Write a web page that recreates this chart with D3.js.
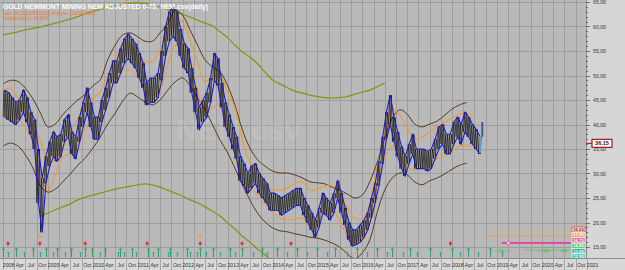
<!DOCTYPE html>
<html>
<head>
<meta charset="utf-8">
<script src="https://cdn.jsdelivr.net/npm/d3@7"></script>
<style>
  body { margin: 0; background: #d4d4d4; }
  svg { display: block; font-family: "Liberation Sans", Arial, sans-serif; }
</style>
</head>
<body>
<svg id="chart" width="625" height="270"></svg>
<script>
// monthly high / low of the price channel, Jan 2008 .. Aug 2018
const priceHi = [47,46.5,45.5,44.5,45,47,45.5,42.5,41,35,29,33.5,
  36.5,38.5,37.5,38,41,42,38.5,37.5,41.5,44.5,47.5,44.5,
  41.5,41.5,45,47.5,50.5,53,53,55.5,57.5,58.5,57.5,56.5,
  54.5,52.5,48.5,49.5,49.5,50.5,55,60,63,64,63,59.5,
  56.5,55.5,51.5,47.5,43.5,45,46.5,49.5,54.5,53.5,48.5,44.5,
  42,39.5,37.5,33.5,32,30,31.5,32,30,29,28,26,
  26,25.5,25,25.5,26,26.5,27,27,25,23.5,22,20.5,
  23,26,25,24,26,28.5,26,23,20,18.5,18.5,19.5,
  20.5,22,25,28,32.5,37.5,42.5,46,41.5,38.5,35.5,33.5,
  36,38,35,35,35,34.5,35,37,39.5,40,38,38,
  40.5,41.5,40,42.5,41.5,40,39,37.5];
const priceLo = [41.5,41,40.5,40,41,42.5,40.5,38,35,24,18,28,
  31.5,33.5,32.5,33.5,36.5,37.5,34,33,36.5,39.5,42.5,39.5,
  37,37,40.5,43,45.5,48.5,48.5,50.5,52.5,53.5,52.5,51.5,
  49.5,47.5,44,44.5,44.5,45.5,49,54,57,58,57,54,
  51.5,50.5,46.5,42.5,39,40.5,41.5,44.5,49,48,43.5,39.5,
  37.5,35,33,28.5,27.5,26,27,28,26,25,24,22.5,
  22.5,22.5,21.5,22,22.5,23,23.5,23.5,21.5,20,18.5,17,
  19,22,21.5,20.5,22,25,22,19.5,16.5,15.2,15.5,16,
  17,18.5,21,24,27.5,32,37,40,36.5,33.5,31,29.5,
  32,34,31,31,31,30.5,31,33,35,36,34,34,
  36,37.5,36,38.5,37.5,36,35,34];

// bands, one value every 2 months from Jan 2008 (null = not drawn)
const orangeUp = [46.8,47.4,45.4,43,39.9,36.8,32.6,32.8,35.4,38.1,41.3,44,45.4,46.6,49.9,53.6,
  55.8,56,53.8,52.8,52.8,55.2,59.3,61.5,60.9,57.2,52.8,48.7,49.9,49.9,46.6,43.4,
  36.8,32.3,30.3,28.5,26.8,26.6,27,28.1,28.3,26.6,26.8,27.4,27.6,25.6,23,20.9,
  20.7,23.6,31.7,37.9,43,41.9,39.3,37.2,37.4,38.5,39.5,40.5,41.3,42.1,42.3,41.5];
const orangeLo = [42.1,41.7,41.1,39.5,36.4,29.1,26.6,29.7,33.4,34,36.4,38.9,40.7,41.5,45.6,48.9,
  51.1,51.1,49.7,47,46,47,52.1,56.2,56.6,53.2,47,42.6,43.4,44,38.9,33.8,
  28.7,27,25.8,23.8,22.1,20.9,20.5,20.7,20.9,19.5,20.1,22.1,23,20.1,17.2,15.8,
  16.2,20.1,27.7,33.2,35.6,33.2,31.3,30.7,31.1,32.1,33,33.6,34.6,35.6,35.8,35.2];
const brownUp = [48.3,49,48.8,47.4,45.2,42.3,39.5,40.1,42,43.6,45,46.2,47.9,49.1,53.2,56.2,
  58.3,58.7,57.9,57,57,58.7,60.5,63.4,62.3,59.3,56.2,53.2,51.7,50.7,47.9,44,
  38.9,35.2,32.8,31.5,30.5,30.1,30.1,29.7,29.1,28.3,28.1,27.9,27.2,26.6,25.8,25,
  25.6,28.3,32.3,37.2,41.3,43,42.1,40.1,39.5,40.1,40.7,41.9,43.2,44,44.5,null];
const brownLo = [35.6,36.2,35.6,33.8,31.1,27.4,26.2,26.8,28.3,29.9,31.7,33.2,35.2,37.4,40.1,42.3,
  44.8,46.4,45.6,44.6,44,45,47,48.7,49.5,47.9,45.4,43,39.9,36.8,34.2,31.1,
  27.7,24.6,21.9,20.1,18.9,18.3,18.1,17.7,17.4,17,16.8,16.4,15.8,15,13.6,12.6,
  13.8,16.4,22.1,26.6,29.1,30.1,29.7,28.3,27.7,28.5,29.1,29.9,30.9,31.7,32.1,null];
const oliveUp = [58.3,58.6,58.9,59.3,59.6,59.9,60.3,60.7,61.1,61.5,62,62.6,63.1,63.5,63.9,64.2,
  64.5,64.7,64.8,64.7,64.4,64,63.5,63,62.5,61.9,61.3,60.7,60.1,58.9,57.7,56.2,
  54.8,53.8,52.4,50.7,49.1,48.3,47.5,46.8,46.4,46,45.7,45.5,45.4,45.5,45.7,46.2,
  46.6,47,47.7,48.5,null,null,null,null,null,null,null,null,null,null,null,null];
const oliveLo = [null,null,null,null,null,21.3,21.9,22.6,23.2,23.8,24.6,25.2,25.6,26,26.4,26.8,
  27.1,27.4,27.7,27.9,27.7,27.2,26.6,26,25.4,24.6,24,23.2,22.3,21.3,19.9,18.7,
  17.2,16,14.6,13.4,11.9,null,null,null,null,null,null,null,null,null,null,null,
  null,null,null,null,null,null,null,null,null,null,null,null,null,null,null,null];

// signals as decimal years
const buyStrong = [2008.0,2008.29,2008.67,2008.96,2009.2,2009.51,2009.83,2009.98,2010.27,2010.61,2010.87,
  2011.23,2011.45,2011.72,2012.1,2012.39,2012.68,2013.06,2013.32,2013.77,2014.1,2014.55,2014.99,
  2015.39,2015.88,2016.33,2016.66,2017.06,2017.51,2018.0,2018.36,2018.85];
const buyWeak = [2008.11,2008.47,2008.82,2009.11,2009.38,2009.71,2010.16,2010.56,2010.69,2010.96,
  2011.34,2011.67,2011.88,2012.16,2012.32,2012.52,2012.83,2013.17,2013.57,2013.88,2014.33,2014.77,
  2015.22,2015.66,2016.11,2016.55,2016.91,2017.22,2017.73,2018.18,2018.58,2019.11];
const sellSignals = [2008.11,2008.82,2009.83,2011.21,2012.39,2013.32,2014.41,2017.96];
const sellStrong = [2008.82,2012.39];

// right-hand level boxes
const levelLabels = ["18,65","17,55","16,75","14,85","13,95","12,95"];
const levelColors = ["#f3e6e6","#f0a860","#e45aa8","#5cc35c","#34b49c","#38c0c0"];
const levelText = ["#a01818","#ffffff","#ffffff","#ffffff","#ffffff","#ffffff"];
const lastValue = 36.15;
const lastRange = [[2018.67, 37.5, 40.5], [2018.62, 34.2, 37.6]];

const quarterNames = ["", "Apr", "Jul", "Oct"];
const yTicks = d3.range(15, 66, 5);

const W = 625, H = 270;
const plotR = 586, plotB = 258;
const svg = d3.select("#chart");

const x = d3.scaleTime()
  .domain([new Date(2008, 0, 1), new Date(2021, 0, 1)])
  .range([3, 587]);
const y = d3.scaleLinear().domain([15, 65]).range([247, 2]);

function yearDate(yr) {
  const yy = Math.floor(yr);
  const start = new Date(yy, 0, 1), end = new Date(yy + 1, 0, 1);
  return new Date(+start + (yr - yy) * (end - start));
}

// backgrounds
svg.append("rect").attr("width", W).attr("height", H).attr("fill", "#d6d6d6");
svg.append("rect").attr("width", plotR).attr("height", plotB).attr("fill", "#b9b9b9");

svg.append("clipPath").attr("id", "plot")
  .append("rect").attr("width", plotR).attr("height", plotB);
const g = svg.append("g").attr("clip-path", "url(#plot)");

// grid
const quarters = d3.timeMonth.every(3).range(new Date(2008, 0, 1), new Date(2021, 0, 2));
g.selectAll(".vg").data(quarters).enter().append("line")
  .attr("x1", d => Math.round(x(d)) + 0.5).attr("x2", d => Math.round(x(d)) + 0.5)
  .attr("y1", 0).attr("y2", plotB)
  .attr("stroke", "#9e9e9e").attr("stroke-width", 1);
g.selectAll(".hg").data(yTicks).enter().append("line")
  .attr("x1", 0).attr("x2", plotR)
  .attr("y1", d => Math.round(y(d)) + 0.5).attr("y2", d => Math.round(y(d)) + 0.5)
  .attr("stroke", "#9e9e9e").attr("stroke-width", 1);

// watermark
g.append("text").attr("x", x(new Date(2013, 3, 1))).attr("y", 140)
  .attr("text-anchor", "middle").attr("font-size", 30).attr("font-weight", "bold")
  .attr("fill", "#ffffff").attr("opacity", 0.09).text("NEM.csv");

const months = priceHi.map((v, i) => i);
const bandIdx = orangeUp.map((v, i) => i * 2);

function band(arr, color, w) {
  const line = d3.line()
    .defined(d => arr[d / 2] != null)
    .x(d => x(new Date(2008, d, 1)))
    .y(d => y(arr[d / 2]))
    .curve(d3.curveCatmullRom);
  g.append("path").datum(bandIdx).attr("d", line)
    .attr("fill", "none").attr("stroke", color).attr("stroke-width", w);
}

band(oliveUp, "#8c9418", 1.3);
band(oliveLo, "#8c9418", 1.3);
band(brownUp, "#5a3b1c", 1);
band(brownLo, "#5a3b1c", 1);
band(orangeUp, "#f29a2e", 1.1);
band(orangeLo, "#f29a2e", 1.1);

// black price path, swinging inside the monthly channel
const zig = [];
months.forEach(m => {
  zig.push([new Date(2008, m, 2), priceLo[m]]);
  zig.push([new Date(2008, m, 9), priceHi[m]]);
  zig.push([new Date(2008, m, 17), priceLo[m]]);
  zig.push([new Date(2008, m, 24), priceHi[m]]);
});
g.append("path").datum(zig)
  .attr("d", d3.line().x(d => x(d[0])).y(d => y(d[1])))
  .attr("fill", "none").attr("stroke", "#000").attr("stroke-width", 0.6);

// blue channel
[priceHi, priceLo].forEach(arr => {
  g.append("path").datum(months)
    .attr("d", d3.line().x(m => x(new Date(2008, m, 15))).y(m => y(arr[m])))
    .attr("fill", "none").attr("stroke", "#1c1ccc").attr("stroke-width", 1.1);
});

// last bars
lastRange.forEach((r, i) => {
  g.append("line")
    .attr("x1", x(yearDate(r[0]))).attr("x2", x(yearDate(r[0])))
    .attr("y1", y(r[2])).attr("y2", y(r[1]))
    .attr("stroke", i === 0 ? "#3c5c8c" : "#5aa0d8").attr("stroke-width", 2);
});

// level lines at bottom right
const levelLines = [
  { v: 18.3, from: 2018.9, to: 2020.65, c: "#e8b070", w: 0.8 },
  { v: 17.2, from: 2018.7, to: 2020.65, c: "#f0a040", w: 0.8 },
  { v: 15.8, from: 2019.1, to: 2020.65, c: "#e04c9c", w: 2 },
  { v: 14.4, from: 2019.6, to: 2020.65, c: "#6cc46c", w: 0.8 },
  { v: 14.2, from: 2018.9, to: 2019.3, c: "#6cc46c", w: 0.8 },
  { v: 14.2, from: 2019.9, to: 2020.25, c: "#6cc46c", w: 0.8 },
  { v: 14.2, from: 2020.4, to: 2020.6, c: "#6cc46c", w: 0.8 }
];
g.selectAll(".lvl").data(levelLines).enter().append("line")
  .attr("x1", d => x(yearDate(d.from))).attr("x2", d => x(yearDate(d.to)))
  .attr("y1", d => y(d.v)).attr("y2", d => y(d.v))
  .attr("stroke", d => d.c).attr("stroke-width", d => d.w);
g.append("circle").attr("cx", x(yearDate(2019.25))).attr("cy", y(15.8)).attr("r", 1.8)
  .attr("fill", "#f4d0e0").attr("stroke", "#e04c9c").attr("stroke-width", 0.8);
[2019.1, 2020.1, 2020.5].forEach(t => {
  g.append("ellipse").attr("cx", x(yearDate(t))).attr("cy", y(14.2)).attr("rx", 2.5).attr("ry", 1.3)
    .attr("fill", "none").attr("stroke", "#58b858").attr("stroke-width", 0.8);
});

// signal markers
const sg = g.append("g");
buyStrong.forEach(t => {
  const cx = Math.round(x(yearDate(t))) + 0.5;
  sg.append("line").attr("x1", cx).attr("x2", cx).attr("y1", 249).attr("y2", 257)
    .attr("stroke", "#2e9e62").attr("stroke-width", 1);
  sg.append("path").attr("d", `M${cx - 1.8},${250} L${cx},${246.5} L${cx + 1.8},${250} Z`)
    .attr("fill", "#3cb46c");
});
buyWeak.forEach(t => {
  const cx = Math.round(x(yearDate(t))) + 0.5;
  sg.append("line").attr("x1", cx).attr("x2", cx).attr("y1", 253).attr("y2", 257)
    .attr("stroke", "#28a49a").attr("stroke-width", 1);
  sg.append("circle").attr("cx", cx).attr("cy", 253).attr("r", 1.1).attr("fill", "#2cb0a4");
});
sellSignals.forEach(t => {
  const cx = x(yearDate(t));
  sg.append("path").attr("d", `M${cx},${241} L${cx + 1.8},${243.5} L${cx},${246} L${cx - 1.8},${243.5} Z`)
    .attr("fill", "#d8344c");
});
sellStrong.forEach(t => {
  const cx = x(yearDate(t));
  sg.append("path").attr("d", `M${cx},${234} L${cx + 1.8},${236.5} L${cx},${239} L${cx - 1.8},${236.5} Z`)
    .attr("fill", "#e8a050");
});

// right axis
svg.append("line").attr("x1", plotR + 0.5).attr("x2", plotR + 0.5).attr("y1", 0).attr("y2", plotB)
  .attr("stroke", "#8a8a8a");
const minor = d3.range(15, 66, 1);
svg.selectAll(".mt").data(minor).enter().append("line")
  .attr("x1", plotR).attr("x2", d => d % 5 === 0 ? plotR + 4 : plotR + 2)
  .attr("y1", d => Math.round(y(d)) + 0.5).attr("y2", d => Math.round(y(d)) + 0.5)
  .attr("stroke", "#555").attr("stroke-width", 0.8);
svg.selectAll(".yl").data(yTicks).enter().append("text")
  .attr("x", 593).attr("y", d => y(d) + 2)
  .attr("font-size", 5.2).attr("fill", "#333")
  .text(d => d3.format(".2f")(d).replace(".", ","));

// last value box
svg.append("line").attr("x1", plotR).attr("x2", 592).attr("y1", y(lastValue)).attr("y2", y(lastValue))
  .attr("stroke", "#a01818").attr("stroke-width", 1);
svg.append("rect").attr("x", 592).attr("y", y(lastValue) - 4).attr("width", 20).attr("height", 8)
  .attr("fill", "#ffffff").attr("stroke", "#a01818").attr("stroke-width", 1.2);
svg.append("text").attr("x", 602).attr("y", y(lastValue) + 2).attr("text-anchor", "middle")
  .attr("font-size", 5.5).attr("font-weight", "bold").attr("fill", "#222")
  .text(d3.format(".2f")(lastValue).replace(".", ","));

// level boxes
levelLabels.forEach((lab, i) => {
  const by = 227 + i * 5.4;
  svg.append("rect").attr("x", 572).attr("y", by).attr("width", 13).attr("height", 5)
    .attr("fill", levelColors[i]).attr("stroke", i === 0 ? "#c03030" : "#ffffff").attr("stroke-width", 0.6);
  svg.append("text").attr("x", 578.5).attr("y", by + 4).attr("text-anchor", "middle")
    .attr("font-size", 4.2).attr("font-weight", "bold").attr("fill", levelText[i]).text(lab);
});

// bottom time axis
svg.append("rect").attr("x", 0).attr("y", plotB).attr("width", W).attr("height", H - plotB)
  .attr("fill", "#d8d8d8");
svg.append("line").attr("x1", 0).attr("x2", W).attr("y1", plotB + 0.5).attr("y2", plotB + 0.5)
  .attr("stroke", "#8a8a8a");
svg.selectAll(".xt").data(quarters).enter().append("line")
  .attr("x1", d => Math.round(x(d)) + 0.5).attr("x2", d => Math.round(x(d)) + 0.5)
  .attr("y1", plotB).attr("y2", H)
  .attr("stroke", "#9a9a9a").attr("stroke-width", 0.8);
svg.selectAll(".xl").data(quarters.slice(0, -1).concat([new Date(2021, 0, 1)])).enter().append("text")
  .attr("x", d => x(d) + 5.6).attr("y", 266.5)
  .attr("text-anchor", "middle").attr("font-size", 5.2).attr("fill", "#333")
  .text(d => d.getMonth() === 0 ? d.getFullYear() : quarterNames[d.getMonth() / 3]);

// titles
svg.append("text").attr("x", 3).attr("y", 9).attr("font-size", 7.2).attr("font-weight", "bold")
  .attr("textLength", 205).attr("lengthAdjust", "spacingAndGlyphs")
  .attr("fill", "#ffffff").text("GOLD NEWMONT MINING NEM ADJUSTED 0-75: NEM.csv(daily)");
svg.append("text").attr("x", 3).attr("y", 14.5).attr("font-size", 4.8)
  .attr("textLength", 92).attr("lengthAdjust", "spacingAndGlyphs")
  .attr("fill", "#e8782a").text("Last: 36,15(09/06/2020)  Analyse: [20/06/2020]");
svg.append("text").attr("x", 3).attr("y", 20).attr("font-size", 4.8)
  .attr("textLength", 46).attr("lengthAdjust", "spacingAndGlyphs")
  .attr("fill", "#e8782a").text("Volatility(d/m): 10,80%");
</script>
</body>
</html>
